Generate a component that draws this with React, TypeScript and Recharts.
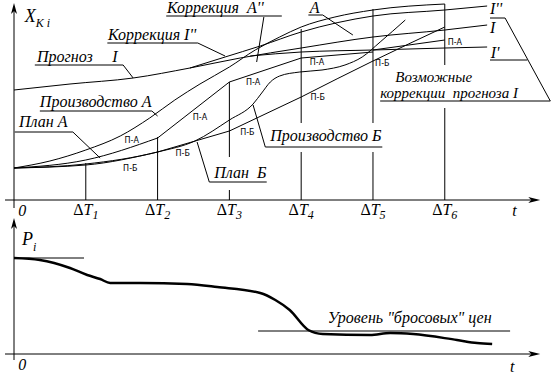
import React from "react";
import { LineChart, Line, XAxis, YAxis, ReferenceLine, ReferenceDot } from "recharts";

// t is measured in ΔT steps, X and P in drawing units above their axes
const deltaTicks = [1, 2, 3, 4, 5, 6];

const forecastI = [
  { t: 0, v: 110 }, { t: 0.78, v: 116 }, { t: 1.66, v: 122 }, { t: 2.45, v: 132 },
  { t: 3.15, v: 142 }, { t: 4, v: 152 }, { t: 5, v: 163 }, { t: 6, v: 170 }, { t: 6.59, v: 175 },
];
const correctionI2 = [
  { t: 2.45, v: 132 }, { t: 2.94, v: 143 }, { t: 3.43, v: 154 }, { t: 4, v: 168 },
  { t: 5, v: 184 }, { t: 6, v: 190 }, { t: 6.59, v: 194 },
];
const correctionI1 = [
  { t: 3.29, v: 144 }, { t: 4, v: 148 }, { t: 5, v: 150 }, { t: 6, v: 152 }, { t: 6.59, v: 153 },
];
const productionA = [
  { t: 0, v: 32 }, { t: 0.5, v: 39 }, { t: 1, v: 50 }, { t: 1.48, v: 64 }, { t: 1.89, v: 82 },
  { t: 2.24, v: 100 }, { t: 2.59, v: 116 }, { t: 3, v: 133 }, { t: 3.36, v: 150 },
  { t: 3.7, v: 163 }, { t: 4, v: 173 }, { t: 4.47, v: 183 }, { t: 5, v: 190 }, { t: 6, v: 196 },
];
const productionB = [
  { t: 0, v: 32 }, { t: 1, v: 36 }, { t: 2, v: 48 }, { t: 2.52, v: 59 }, { t: 3, v: 80 },
  { t: 3.33, v: 96 }, { t: 3.45, v: 107 }, { t: 3.57, v: 118 }, { t: 3.7, v: 124 },
  { t: 3.98, v: 128 }, { t: 4.29, v: 130 }, { t: 4.61, v: 135 }, { t: 4.85, v: 143 },
  { t: 5.1, v: 158 }, { t: 5.45, v: 180 },
];
const planA = [
  [{ t: 0, v: 32 }, { t: 1, v: 40 }, { t: 2, v: 62 }],
  [{ t: 2, v: 62 }, { t: 3, v: 118 }],
  [{ t: 3, v: 118 }, { t: 4, v: 142 }],
  [{ t: 4, v: 142 }, { t: 5, v: 148 }],
  [{ t: 5, v: 150 }, { t: 6, v: 160 }],
];
const planB = [
  [{ t: 0, v: 32 }, { t: 1, v: 35 }, { t: 2, v: 48 }],
  [{ t: 2, v: 48 }, { t: 3, v: 69 }],
  [{ t: 3, v: 69 }, { t: 4, v: 103 }],
  [{ t: 4, v: 103 }, { t: 5, v: 139 }, { t: 6, v: 173 }],
];
// pieces of the ΔT marks (they break around the captions)
const deltaMarks = [
  [[0, 37]], [[0, 63]], [[0, 10], [43, 118]], [[0, 48], [77, 171]], [[0, 48], [77, 191]], [[0, 92], [135, 196]],
];

// bottom panel, price P_i
const price = [
  { t: 0, p: 96 }, { t: 0.36, p: 94 }, { t: 0.78, p: 86 }, { t: 1.02, p: 79 }, { t: 1.2, p: 75 },
  { t: 1.34, p: 71 }, { t: 1.76, p: 71 }, { t: 2.41, p: 70 }, { t: 2.83, p: 67 }, { t: 3.43, p: 61 },
  { t: 3.64, p: 54 }, { t: 3.84, p: 44 }, { t: 4.1, p: 24 }, { t: 4.3, p: 20 }, { t: 4.96, p: 19 },
  { t: 5.24, p: 21 }, { t: 5.56, p: 20 }, { t: 6.17, p: 14 }, { t: 6.45, p: 11 }, { t: 6.66, p: 10 },
];
const dumpLevel = 23;
const startPrice = 96;

const serif = "Liberation Serif";

const captions = [
  { t: 0.32, v: 138, text: "Прогноз", size: 16 }, { t: 1.37, v: 138, text: "I", size: 16 },
  { t: 1.31, v: 160, text: "Коррекция I''", size: 16 },
  { t: 2.13, v: 187, text: "Коррекция  A''", size: 16 },
  { t: 0.36, v: 93, text: "Производство А", size: 16 },
  { t: 0.07, v: 73, text: "План А", size: 16 },
  { t: 2.79, v: 22, text: "План  Б", size: 16 },
  { t: 3.57, v: 59, text: "Производство Б", size: 16 },
  { t: 4.12, v: 187, text: "A", size: 16 },
  { t: 6.63, v: 186, text: "I''", size: 16 },
  { t: 6.63, v: 167, text: "I", size: 16 },
  { t: 6.64, v: 142, text: "I'", size: 16 },
  { t: 5.31, v: 118, text: "Возможные", size: 15 },
  { t: 5.1, v: 102, text: "коррекции  прогноза I", size: 15 },
];
const smallTags = [
  { t: 1.64, v: 57, text: "П-А" }, { t: 1.62, v: 29, text: "П-Б" }, { t: 2.35, v: 44, text: "П-Б" },
  { t: 2.59, v: 80, text: "П-А" }, { t: 3.33, v: 115, text: "П-А" }, { t: 3.25, v: 65, text: "П-Б" },
  { t: 4.22, v: 135, text: "П-А" }, { t: 4.23, v: 100, text: "П-Б" }, { t: 5.13, v: 134, text: "П-Б" },
  { t: 6.14, v: 155, text: "П-А" },
];
const leaders = [
  [0.29, 135, 1.52, 135], [1.52, 135, 1.66, 122],
  [1.3, 157, 2.56, 157], [2.56, 157, 2.94, 144],
  [2.12, 184, 3.73, 184], [3.48, 183, 3.38, 138],
  [0.36, 89, 1.92, 89], [1.92, 89, 2.0, 84],
  [0.01, 68, 0.82, 68], [0.82, 68, 1.2, 42],
  [2.72, 18, 3.52, 18], [2.72, 18, 2.55, 58],
  [3.5, 53, 5.13, 53], [3.5, 53, 3.33, 95],
  [4.1, 185, 4.3, 185], [4.3, 185, 4.72, 165],
  [6.63, 182, 6.84, 182], [6.84, 182, 7.47, 99],
  [6.63, 140, 7.15, 140],
  [5.1, 99, 7.47, 99],
];

const black = "#000";

const upArrow = (p: any) => (
  <polygon points={`${p.cx},${p.cy} ${p.cx - 3},${p.cy + 11} ${p.cx},${p.cy + 8} ${p.cx + 3},${p.cy + 11}`} fill={black} />
);
const rightArrow = (p: any) => (
  <polygon points={`${p.cx},${p.cy} ${p.cx - 12},${p.cy - 3} ${p.cx - 9},${p.cy} ${p.cx - 12},${p.cy + 3}`} fill={black} />
);

export default function App() {
  return (
    <div style={{ position: "absolute", left: 0, top: 0, width: 559, height: 378, background: "#fff" }}>
      <LineChart width={559} height={378} margin={{ top: 0, right: 0, bottom: 0, left: 0 }}>
        <XAxis dataKey="t" type="number" domain={[-0.195, 7.591]} allowDataOverflow hide />
        <YAxis yAxisId="x" type="number" domain={[-178, 200]} allowDataOverflow hide />
        <YAxis yAxisId="p" type="number" domain={[-24, 354]} allowDataOverflow hide />

        {/* axes */}
        <ReferenceLine yAxisId="x" segment={[{ x: 0, y: -8 }, { x: 0, y: 190 }]} stroke={black} />
        <ReferenceLine yAxisId="x" segment={[{ x: -0.125, y: 0 }, { x: 7.2, y: 0 }]} stroke={black} />
        <ReferenceDot yAxisId="x" x={0} y={197} r={0} shape={upArrow} />
        <ReferenceDot yAxisId="x" x={7.33} y={0} r={0} shape={rightArrow} />
        <ReferenceLine yAxisId="p" segment={[{ x: 0, y: -6 }, { x: 0, y: 130 }]} stroke={black} />
        <ReferenceLine yAxisId="p" segment={[{ x: -0.125, y: 0 }, { x: 7.2, y: 0 }]} stroke={black} />
        <ReferenceDot yAxisId="p" x={0} y={136} r={0} shape={upArrow} />
        <ReferenceDot yAxisId="p" x={7.33} y={0} r={0} shape={rightArrow} />

        {deltaMarks.map((parts, i) =>
          parts.map(([a, b], j) => (
            <ReferenceLine key={`m${i}-${j}`} yAxisId="x" segment={[{ x: i + 1, y: a }, { x: i + 1, y: b }]} stroke={black} />
          ))
        )}

        {leaders.map(([x1, y1, x2, y2], i) => (
          <ReferenceLine key={`l${i}`} yAxisId="x" segment={[{ x: x1, y: y1 }, { x: x2, y: y2 }]} stroke={black} />
        ))}

        <Line yAxisId="x" data={forecastI} dataKey="v" type="monotone" stroke={black} strokeWidth={1} dot={false} activeDot={false} isAnimationActive={false} />
        <Line yAxisId="x" data={correctionI2} dataKey="v" type="monotone" stroke={black} strokeWidth={1} dot={false} activeDot={false} isAnimationActive={false} />
        <Line yAxisId="x" data={correctionI1} dataKey="v" type="monotone" stroke={black} strokeWidth={1} dot={false} activeDot={false} isAnimationActive={false} />
        <Line yAxisId="x" data={productionA} dataKey="v" type="monotone" stroke={black} strokeWidth={1} dot={false} activeDot={false} isAnimationActive={false} />
        <Line yAxisId="x" data={productionB} dataKey="v" type="monotone" stroke={black} strokeWidth={1} dot={false} activeDot={false} isAnimationActive={false} />
        {planA.map((seg, i) => (
          <Line key={`pa${i}`} yAxisId="x" data={seg} dataKey="v" type="monotone" stroke={black} strokeWidth={1} dot={false} activeDot={false} isAnimationActive={false} />
        ))}
        {planB.map((seg, i) => (
          <Line key={`pb${i}`} yAxisId="x" data={seg} dataKey="v" type="monotone" stroke={black} strokeWidth={1} dot={false} activeDot={false} isAnimationActive={false} />
        ))}

        {/* bottom panel */}
        <ReferenceLine yAxisId="p" segment={[{ x: 0, y: startPrice }, { x: 0.975, y: startPrice }]} stroke={black} />
        <ReferenceLine yAxisId="p" segment={[{ x: 3.4, y: dumpLevel }, { x: 6.91, y: dumpLevel }]} stroke={black} />
        <Line yAxisId="p" data={price} dataKey="p" type="monotone" stroke={black} strokeWidth={2.5} dot={false} activeDot={false} isAnimationActive={false} />

        {/* texts */}
        {captions.map((c, i) => (
          <ReferenceDot key={`c${i}`} yAxisId="x" x={c.t} y={c.v} r={0}
            shape={(p: any) => (
              <text x={p.cx} y={p.cy} fontFamily={serif} fontStyle="italic" fontSize={c.size} fill={black} style={{ whiteSpace: "pre" }}>{c.text}</text>
            )} />
        ))}
        {smallTags.map((c, i) => (
          <ReferenceDot key={`s${i}`} yAxisId="x" x={c.t} y={c.v} r={0}
            shape={(p: any) => (
              <text x={p.cx} y={p.cy} textAnchor="middle" fontFamily="DejaVu Sans" fontSize={8} fill={black}>{c.text}</text>
            )} />
        ))}
        {deltaTicks.map((n) => (
          <ReferenceDot key={`d${n}`} yAxisId="x" x={n} y={-15} r={0}
            shape={(p: any) => (
              <text x={p.cx} y={p.cy} textAnchor="middle" fontFamily={serif} fontSize={16} fill={black}>
                <tspan>Δ</tspan><tspan fontStyle="italic">T</tspan><tspan fontStyle="italic" fontSize={12} dy={4}>{n}</tspan>
              </text>
            )} />
        ))}
        <ReferenceDot yAxisId="x" x={0.06} y={-16} r={0}
          shape={(p: any) => <text x={p.cx} y={p.cy} fontFamily={serif} fontStyle="italic" fontSize={16} fill={black}>0</text>} />
        <ReferenceDot yAxisId="x" x={6.94} y={-16} r={0}
          shape={(p: any) => <text x={p.cx} y={p.cy} fontFamily={serif} fontStyle="italic" fontSize={16} fill={black}>t</text>} />
        <ReferenceDot yAxisId="x" x={0.15} y={178} r={0}
          shape={(p: any) => (
            <text x={p.cx} y={p.cy} fontFamily={serif} fontStyle="italic" fontSize={18} fill={black}>
              <tspan>X</tspan><tspan fontSize={12} dy={5}>K i</tspan>
            </text>
          )} />
        <ReferenceDot yAxisId="p" x={0.11} y={109} r={0}
          shape={(p: any) => (
            <text x={p.cx} y={p.cy} fontFamily={serif} fontStyle="italic" fontSize={18} fill={black}>
              <tspan>P</tspan><tspan fontSize={12} dy={6}>i</tspan>
            </text>
          )} />
        <ReferenceDot yAxisId="p" x={0.06} y={-16} r={0}
          shape={(p: any) => <text x={p.cx} y={p.cy} fontFamily={serif} fontStyle="italic" fontSize={16} fill={black}>0</text>} />
        <ReferenceDot yAxisId="p" x={6.91} y={-18} r={0}
          shape={(p: any) => <text x={p.cx} y={p.cy} fontFamily={serif} fontStyle="italic" fontSize={16} fill={black}>t</text>} />
        <ReferenceDot yAxisId="p" x={4.37} y={31} r={0}
          shape={(p: any) => <text x={p.cx} y={p.cy} fontFamily={serif} fontStyle="italic" fontSize={16} fill={black}>Уровень "бросовых" цен</text>} />
      </LineChart>
    </div>
  );
}
